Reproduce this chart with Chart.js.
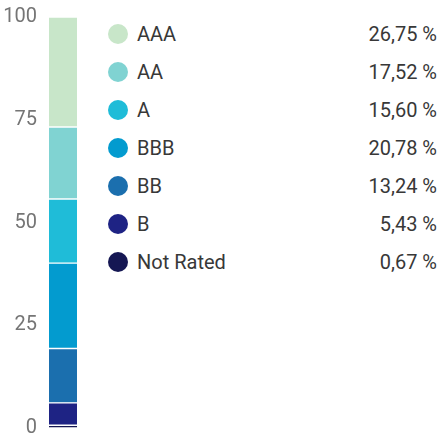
<!DOCTYPE html>
<html>
<head>
<meta charset="utf-8">
<script src="https://cdn.jsdelivr.net/npm/chart.js@4"></script>
<style>
    body { margin: 0; background: #fff; font-family: Roboto, sans-serif; }
    #wrap { position: relative; width: 437px; height: 435px; }
    #graficoBox { position: absolute; left: 0; top: 0; width: 90px; height: 435px; }
    #graficoBox canvas { display: block; }
    #legenda { position: absolute; left: 108px; top: 15px; width: 329px; margin: 0; padding: 0; list-style: none; }
    #legenda li { display: flex; align-items: center; height: 38px; font-size: 20px; color: #383838; }
    #legenda .ponto { width: 20px; height: 20px; border-radius: 50%; margin-right: 9px; flex: none; }
    #legenda .nome { flex: 1; }
    #legenda .valor { text-align: right; }
</style>
</head>
<body>
<div id="wrap">
    <div id="graficoBox"><canvas id="ratingChart" width="90" height="435"></canvas></div>
    <ul id="legenda"></ul>
</div>
<script>
const ratings = ["AAA", "AA", "A", "BBB", "BB", "B", "Not Rated"];
const percentuais = [26.75, 17.52, 15.60, 20.78, 13.24, 5.43, 0.67];
const cores = ["#c8e6c9", "#80d3d2", "#1fbcd8", "#039bcf", "#1b6fae", "#1e2384", "#151753"];
const ticksY = [0, 25, 50, 75, 100];

function formatarPercentual(v) {
    return v.toFixed(2).replace(".", ",") + " %";
}

function criarLegenda() {
    const lista = document.getElementById("legenda");
    ratings.forEach((nome, i) => {
        const item = document.createElement("li");
        item.innerHTML = `<span class="ponto" style="background:${cores[i]}"></span>` +
            `<span class="nome">${nome}</span><span class="valor">${formatarPercentual(percentuais[i])}</span>`;
        lista.appendChild(item);
    });
}

function criarGrafico() {
    // a pilha começa por baixo, por isso a ordem é invertida
    const datasets = ratings.map((nome, i) => ({
        label: nome,
        data: [percentuais[i]],
        backgroundColor: cores[i],
        borderColor: "#ffffff",
        borderWidth: { top: 1, bottom: 1, left: 0, right: 0 },
        borderSkipped: false,
        barPercentage: 1,
        categoryPercentage: 1,
    })).reverse();

    const ctx = document.getElementById("ratingChart").getContext("2d");
    new Chart(ctx, {
        type: "bar",
        data: { labels: [""], datasets: datasets },
        options: {
            responsive: false,
            animation: false,
            layout: { padding: { top: 17, bottom: 7, right: 13, left: 0 } },
            plugins: { legend: { display: false }, tooltip: { enabled: false } },
            scales: {
                x: { stacked: true, display: false },
                y: {
                    stacked: true,
                    min: ticksY[0],
                    max: ticksY[ticksY.length - 1],
                    afterBuildTicks: (axis) => { axis.ticks = ticksY.map((v) => ({ value: v })); },
                    afterFit: (axis) => {
                        axis.width = 49;
                        axis.paddingTop = 0;
                        axis.paddingBottom = 0;
                    },
                    grid: { display: false, drawTicks: false },
                    border: { display: false },
                    ticks: {
                        font: { family: "Roboto", size: 20 },
                        color: "#757575",
                        padding: 12,
                    },
                },
            },
        },
    });
}

criarLegenda();
document.fonts.load("20px Roboto").then(criarGrafico, criarGrafico);
</script>
</body>
</html>
